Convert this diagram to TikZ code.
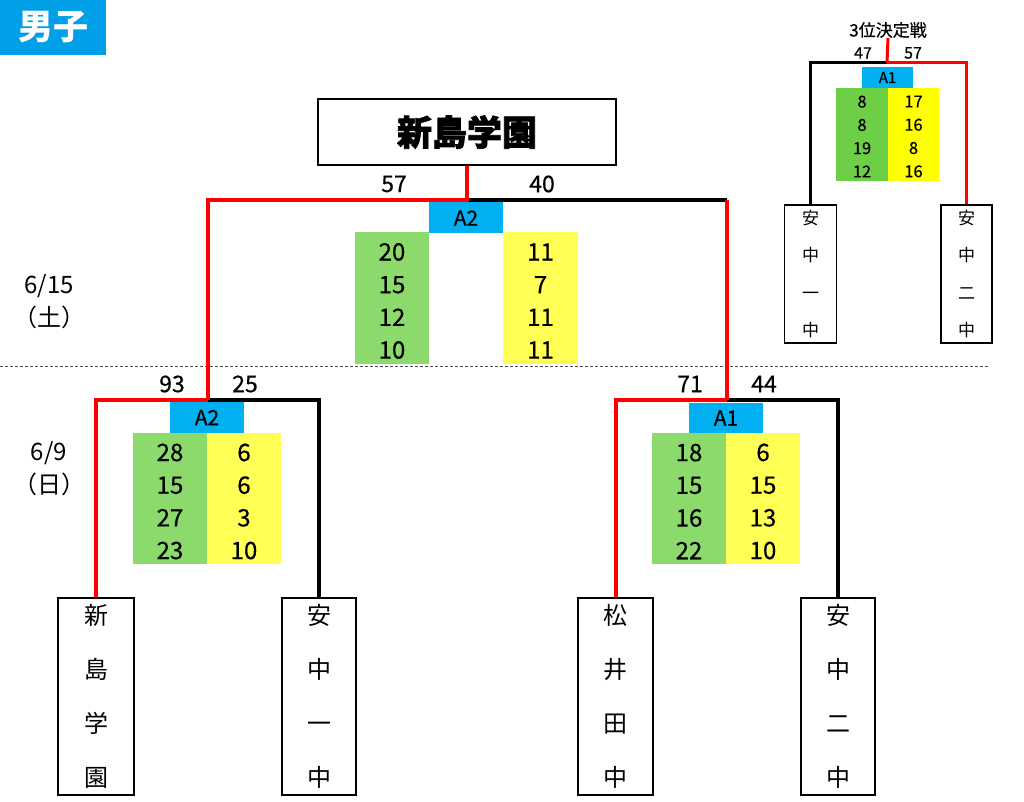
\documentclass[tikz,border=0pt]{standalone}
\usepackage{fontspec}
\setmainfont{Noto Sans CJK JP}
\newfontfamily\numf{Noto Sans CJK JP}[FakeBold=0.5]
\newfontfamily\titlef{Noto Sans CJK JP}[BoldFeatures={FakeBold=2}]
\definecolor{hdrblue}{HTML}{00A0E9}
\definecolor{lblblue}{HTML}{00B0F0}
\definecolor{sgreen}{HTML}{8CDA6B}
\definecolor{syellow}{HTML}{FFFF55}
\definecolor{sgreenB}{HTML}{6DCF45}
\definecolor{syellowB}{HTML}{FFFF00}
\definecolor{wred}{HTML}{FF0000}
\tikzset{
  teambox/.style={draw, line width=1.6pt, inner sep=0pt, align=center, minimum height=197pt, font=\fontsize{24}{54}\selectfont},
  smallteam/.style={draw, line width=1.4pt, inner sep=0pt, align=center, minimum height=138pt, minimum width=52pt, font=\fontsize{17}{37.5}\selectfont},
  scorefill/.style={inner sep=0pt, minimum width=74pt, minimum height=131pt},
  scoretext/.style={inner sep=0pt, align=center, font=\numf\fontsize{24}{32.7}\selectfont},
  smallfill/.style={inner sep=0pt, minimum width=52pt, minimum height=93pt},
  smalltext/.style={inner sep=0pt, align=center, font=\numf\fontsize{16.5}{23.3}\selectfont},
  courtlbl/.style={fill=lblblue, inner sep=0pt, minimum width=74pt, minimum height=31pt, font=\numf\fontsize{21}{24}\selectfont},
  smallcourt/.style={fill=lblblue, inner sep=0pt, minimum width=51pt, minimum height=21pt, font=\numf\fontsize{15}{18}\selectfont},
  ptlbl/.style={inner sep=0pt, font=\numf\fontsize{23}{26}\selectfont},
  smallpt/.style={inner sep=0pt, font=\numf\fontsize{16}{18}\selectfont},
  datelbl/.style={inner sep=0pt, align=center, font=\fontsize{24}{33}\selectfont},
  winline/.style={wred, line width=4pt},
  loseline/.style={black, line width=4pt},
  swin/.style={wred, line width=3pt},
  slose/.style={black, line width=3pt},
}
\begin{document}
\begin{tikzpicture}[x=1pt, y=-1pt]
\useasboundingbox (0,0) rectangle (1024,802);
% header
\node[fill=hdrblue, text=white, inner sep=0pt, minimum width=106pt, minimum height=55pt, font=\fontsize{35}{38}\selectfont\bfseries] (hdr) at (53,27.5) {男子};

% dashed separator
\coordinate (dl) at (0,366);
\coordinate (dr) at (990,366);
\draw[black!70, line width=1pt, dash pattern=on 3pt off 2pt] (dl) -- (dr);

% dates
\node[datelbl] (d1) at (49,302) {6/15\\（土）};
\node[datelbl] (d2) at (49,469) {6/9\\（日）};

% champion
\node[draw, line width=1.6pt, minimum width=298pt, minimum height=66pt, inner sep=0pt, font=\titlef\fontsize{35}{38}\selectfont] (champ) at (467,132) {\textbf{新島学園}};

% teams
\node[teambox, minimum width=76pt] (tA) at (96,696.5) {新\\島\\学\\園};
\node[teambox, minimum width=74pt] (tB) at (319,696.5) {安\\中\\一\\中};
\node[teambox, minimum width=75pt] (tC) at (615.5,696.5) {松\\井\\田\\中};
\node[teambox, minimum width=74pt] (tD) at (838,696.5) {安\\中\\二\\中};

% junctions
\coordinate (j1) at (208,400);
\coordinate (j2) at (727,400);
\coordinate (j0) at (467,200);
\coordinate (jr) at (727,200);

% score blocks: left semi
\node[courtlbl] (c1) at (207,417.5) {A2};
\node[scorefill, fill=sgreen] (g1) at (170,498.5) {};
\node[scorefill, fill=syellow] (y1) at (244,498.5) {};
\node[scoretext] (g1t) at ([yshift=-3pt]g1.center) {28\\15\\27\\23};
\node[scoretext] (y1t) at ([yshift=-3pt]y1.center) {6\\6\\3\\10};
% right semi
\node[courtlbl] (c2) at (726,418) {A1};
\node[scorefill, fill=sgreen] (g2) at (689,498.5) {};
\node[scorefill, fill=syellow] (y2) at (763,498.5) {};
\node[scoretext] (g2t) at ([yshift=-3pt]g2.center) {18\\15\\16\\22};
\node[scoretext] (y2t) at ([yshift=-3pt]y2.center) {6\\15\\13\\10};
% final
\node[courtlbl] (c0) at (466,218) {A2};
\node[scorefill, fill=sgreen] (g0) at (392,298) {};
\node[scorefill, fill=syellow, minimum width=75pt] (y0) at (540.5,298) {};
\node[scoretext] (g0t) at ([yshift=-3pt]g0.center) {20\\15\\12\\10};
\node[scoretext] (y0t) at ([yshift=-3pt]y0.center) {11\\7\\11\\11};

% points
\node[ptlbl] (p93) at (172,384) {93};
\node[ptlbl] (p25) at (245,384) {25};
\node[ptlbl] (p71) at (690,384) {71};
\node[ptlbl] (p44) at (764,384) {44};
\node[ptlbl] (p57) at (394,184) {57};
\node[ptlbl] (p40) at (542,184) {40};

% bracket lines
\draw[loseline] (j1) -| (tB.north);
\draw[winline] (tA.north) |- (j1);
\draw[loseline] (j2) -| (tD.north);
\draw[winline] (tC.north) |- (j2);
\draw[loseline] (j0) -- (jr);
\draw[winline] (j2) -- (jr);
\draw[winline] (j1) |- (j0) -- (champ.south);

% third place
\node[inner sep=0pt, font=\numf\fontsize{17}{18}\selectfont] (third) at (888,30) {3位決定戦};
\coordinate (j3) at (887,63);
\node[smallteam] (sA) at (810.5,274) {安\\中\\一\\中};
\node[smallteam, minimum width=51pt] (sB) at (966.5,274) {安\\中\\二\\中};
\node[smallcourt] (c3) at (887.5,77.5) {A1};
\node[smallfill, fill=sgreenB] (g3) at (862,134.5) {};
\node[smallfill, fill=syellowB, minimum width=51pt] (y3) at (913.5,134.5) {};
\node[smalltext] (g3t) at ([yshift=-2pt]g3.center) {8\\8\\19\\12};
\node[smalltext] (y3t) at ([yshift=-2pt]y3.center) {17\\16\\8\\16};
\node[smallpt] (p47) at (863,53) {47};
\node[smallpt] (p57b) at (913,53) {57};
\draw[slose] (j3) -| (sA.north);
\draw[swin] (j3) -| (sB.north);
\draw[swin] (j3) -- (third.south);
\end{tikzpicture}
\end{document}
